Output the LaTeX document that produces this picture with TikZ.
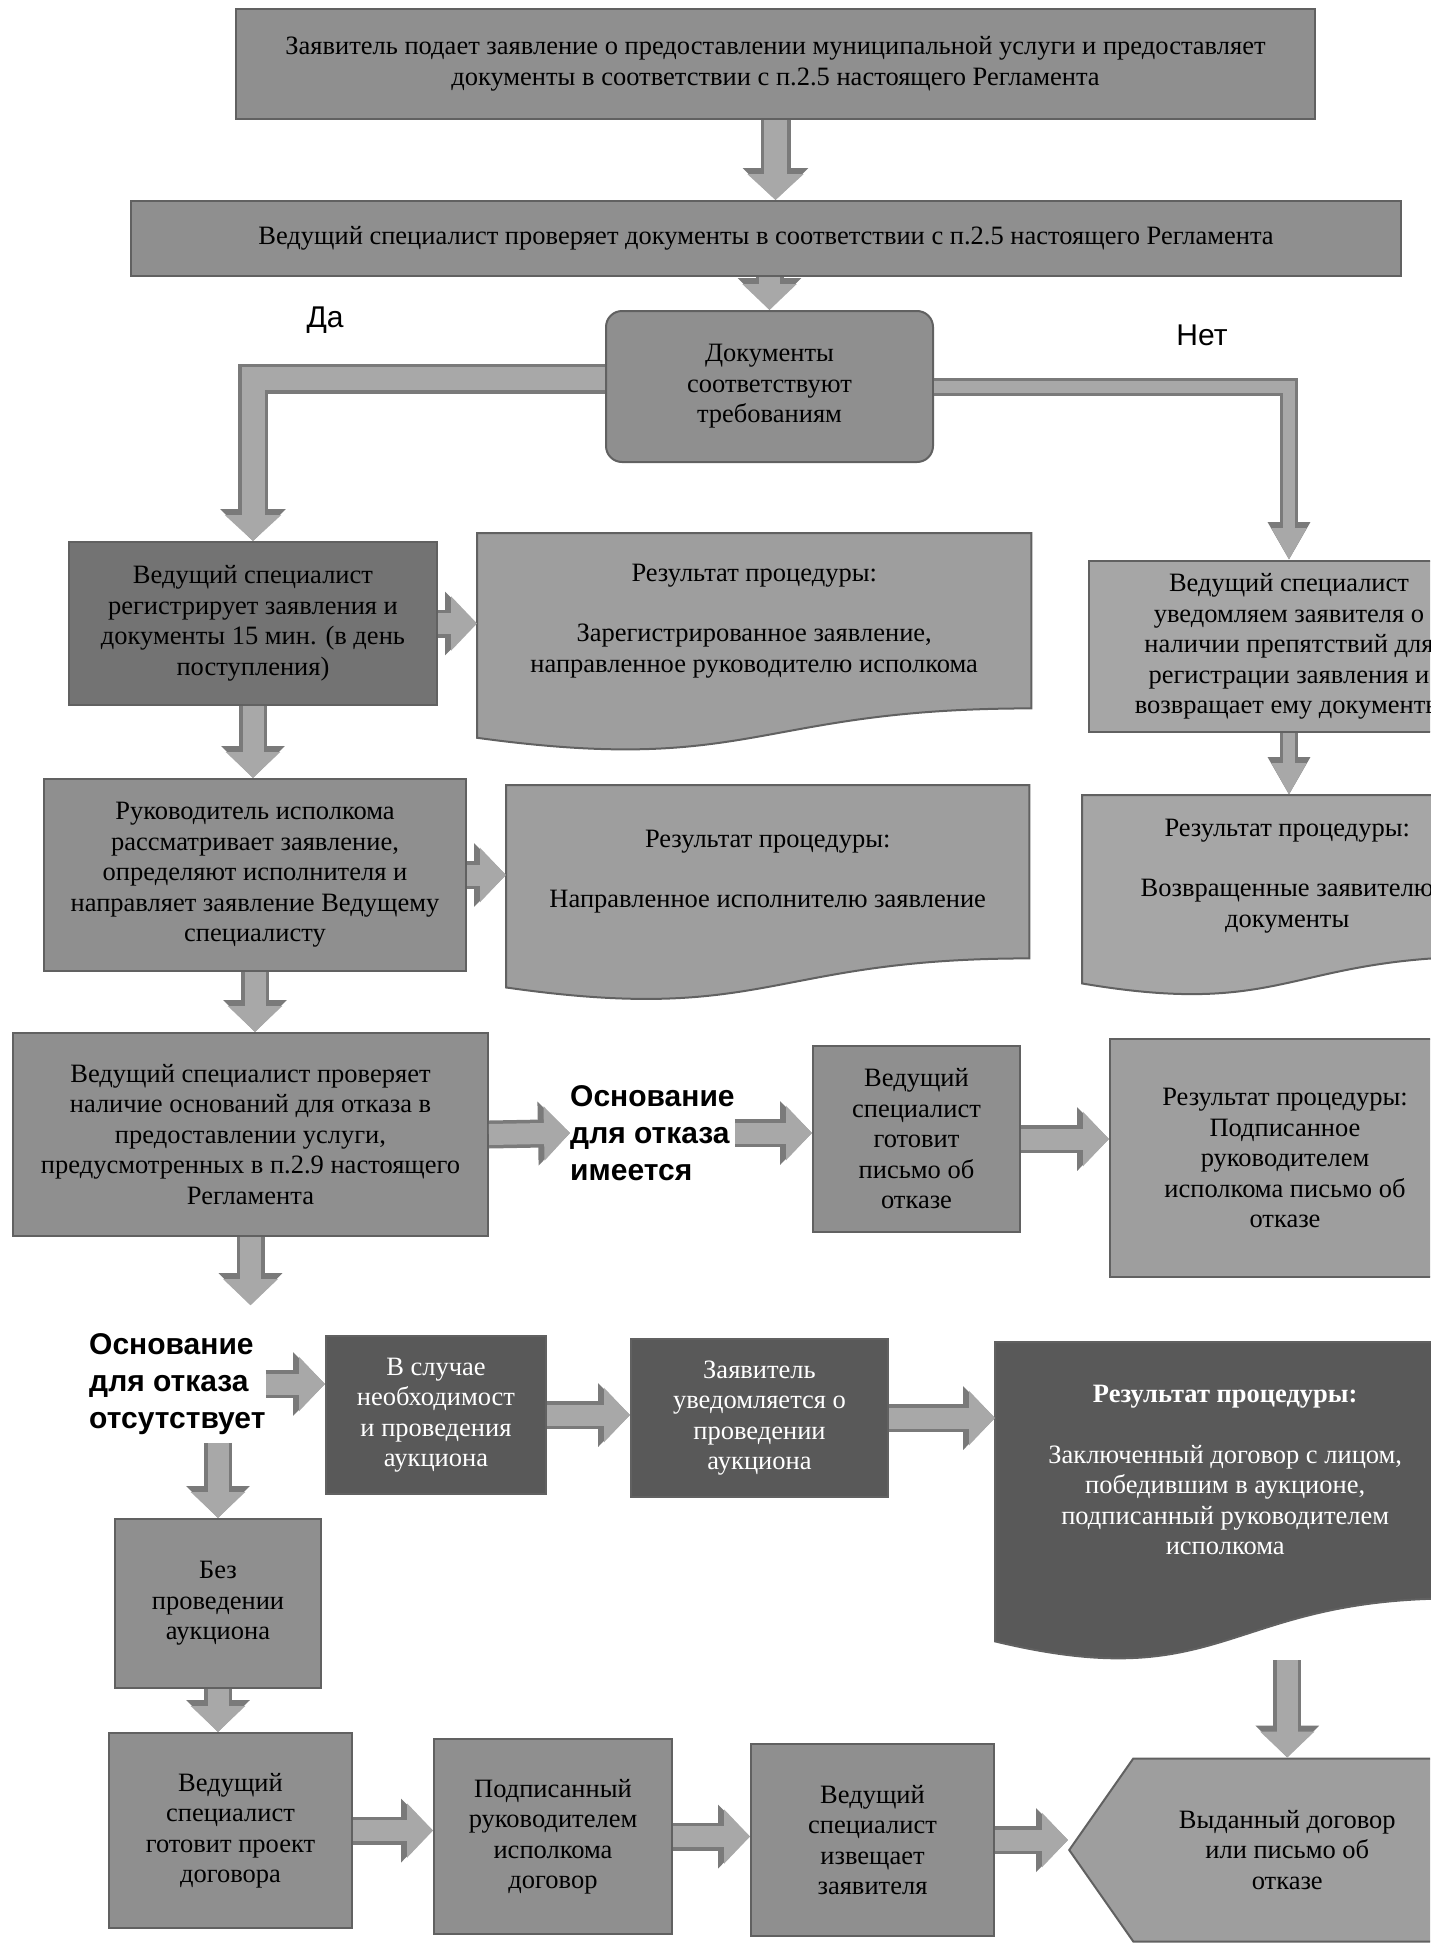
\documentclass[tikz,border=0pt]{standalone}
\usepackage{fontspec}
\setmainfont{Liberation Serif}
\newfontfamily\labelfont{Liberation Sans}
\usetikzlibrary{arrows.meta,shapes.symbols,calc}
\pgfdeclarelayer{background}
\pgfsetlayers{background,main}

\definecolor{edgegray}{gray}{0.38}
\definecolor{plainfill}{gray}{0.56}
\definecolor{darkfill}{gray}{0.45}
\definecolor{resfill}{gray}{0.62}
\definecolor{lightfill}{gray}{0.65}
\definecolor{deepfill}{gray}{0.35}
\definecolor{arrowfill}{gray}{0.66}
\definecolor{arrowedge}{gray}{0.48}

% document shape under a node
\newcommand{\docwave}[2]{%
  \filldraw[draw=edgegray, line width=2pt, fill=#2] let \p1=(#1.north), \p2=(#1.south), \n1={\y1-\y2} in
    (#1.north west) -- (#1.north east) -- (#1.south east)
    .. controls (#1.south) and ([yshift=-0.384*\n1]#1.south)
    .. ([yshift=-0.1675*\n1]#1.south west) -- cycle;}

\begin{document}
\begin{tikzpicture}[x=1pt,y=-1pt,
  box/.style={draw=edgegray, line width=2pt, align=center, anchor=north west,
    font=\fontsize{26.5}{30.5}\selectfont, inner sep=4pt},
  doc/.style={align=center, anchor=north west, font=\fontsize{26.5}{30.5}\selectfont},
  answer/.style={font=\labelfont\fontsize{30}{36}\selectfont},
  reason/.style={font=\labelfont\bfseries\fontsize{30}{37}\selectfont, align=left, anchor=west, inner sep=0pt},
  flow/.style={preaction={draw=arrowedge, line width=28pt, -{Triangle[width=62pt,length=32pt]}},
    draw=arrowfill, line width=21pt, -{Triangle[width=53pt,length=26pt]}},
  wideflow/.style={preaction={draw=arrowedge, line width=30pt, -{Triangle[width=64pt,length=32pt]}},
    draw=arrowfill, line width=23pt, -{Triangle[width=55pt,length=26pt]}},
  thinflow/.style={preaction={draw=arrowedge, line width=18pt, -{Triangle[width=40pt,length=38pt]}},
    draw=arrowfill, line width=12pt, -{Triangle[width=33pt,length=32pt]}}]

\clip (0,0) rectangle (1430,1943);

% first steps
\node[box, fill=plainfill, minimum width=1079pt, minimum height=110pt] (apply) at (235,8)
  {Заявитель подает заявление о предоставлении муниципальной услуги и предоставляет\\документы в соответствии с п.2.5 настоящего Регламента};
\node[box, fill=plainfill, minimum width=1270pt, minimum height=75pt] (check) at (130,200)
  {Ведущий специалист проверяет документы в соответствии с п.2.5 настоящего Регламента};
\node[box, fill=plainfill, rounded corners=16pt, minimum width=327pt, minimum height=151pt] (decide) at (605,310)
  {Документы\\соответствуют\\требованиям};

\node[answer] (yes) at (325,320) {Да};
\node[answer] (no) at (1202,335) {Нет};

% yes branch
\node[box, fill=darkfill, minimum width=368pt, minimum height=163pt] (regist) at (68,541)
  {Ведущий специалист\\регистрирует заявления и\\документы 15 мин. (в день\\поступления)};
\node[doc, minimum width=554pt, minimum height=175pt] (res1) at (477,533)
  {Результат процедуры:\\[30pt]Зарегистрированное заявление,\\направленное руководителю исполкома};
\node[box, fill=plainfill, minimum width=422pt, minimum height=192pt] (head) at (43,778)
  {Руководитель исполкома\\рассматривает заявление,\\определяют исполнителя и\\направляет заявление Ведущему\\специалисту};
\node[doc, minimum width=523pt, minimum height=173pt] (res2) at (506,785)
  {Результат процедуры:\\[30pt]Направленное исполнителю заявление};
\node[box, fill=plainfill, minimum width=475pt, minimum height=203pt] (check2) at (12,1032)
  {Ведущий специалист проверяет\\наличие оснований для отказа в\\предоставлении услуги,\\предусмотренных в п.2.9 настоящего\\Регламента};

% no branch
\node[box, fill=lightfill, minimum width=400pt, minimum height=171pt] (notify) at (1088,560)
  {Ведущий специалист\\уведомляем заявителя о\\наличии препятствий для\\регистрации заявления и\\возвращает ему документы};
\node[doc, minimum width=410pt, minimum height=161pt] (res4) at (1082,795)
  {Результат процедуры:\\[30pt]Возвращенные заявителю\\документы};

% refusal
\node[reason] (refyes) at (570,1133) {Основание\\для отказа\\имеется};
\node[box, fill=plainfill, minimum width=207pt, minimum height=186pt] (refuse) at (812,1045)
  {Ведущий\\специалист\\готовит\\письмо об\\отказе};
\node[box, fill=resfill, minimum width=350pt, minimum height=238pt] (res3) at (1109,1038)
  {Результат процедуры:\\Подписанное\\руководителем\\исполкома письмо об\\отказе};

% no refusal
\node[reason] (refno) at (89,1384) {Основание\\для отказа\\отсутствует};
\node[box, fill=deepfill, text=white, minimum width=220pt, minimum height=158pt] (auction) at (325,1335)
  {В случае\\необходимост\\и проведения\\аукциона};
\node[box, fill=deepfill, text=white, minimum width=257pt, minimum height=158pt] (inform) at (630,1338)
  {Заявитель\\уведомляется о\\проведении\\аукциона};
\node[doc, text=white, minimum width=460pt, minimum height=256pt] (res5) at (995,1342)
  {\textbf{Результат процедуры:}\\[30pt]Заключенный договор с лицом,\\победившим в аукционе,\\подписанный руководителем\\исполкома};
\node[box, fill=plainfill, minimum width=206pt, minimum height=169pt] (noauc) at (114,1518)
  {Без\\проведении\\аукциона};

% last row
\node[box, fill=plainfill, minimum width=243pt, minimum height=195pt] (draft) at (108,1732)
  {Ведущий\\специалист\\готовит проект\\договора};
\node[box, fill=plainfill, minimum width=238pt, minimum height=195pt] (signed) at (433,1738)
  {Подписанный\\руководителем\\исполкома\\договор};
\node[box, fill=plainfill, minimum width=243pt, minimum height=192pt] (notice) at (750,1743)
  {Ведущий\\специалист\\извещает\\заявителя};
\node[box, fill=resfill, signal, signal to=west, signal pointer angle=110, anchor=west,
  minimum width=372pt, minimum height=183pt] (issued) at (1068,1850)
  {Выданный договор\\или письмо об\\отказе};

\begin{pgfonlayer}{background}
\fill[white] (0,0) rectangle (1430,1943);
\docwave{res1}{resfill}
\docwave{res2}{resfill}
\docwave{res4}{lightfill}
\docwave{res5}{deepfill}
\end{pgfonlayer}

% arrows
\draw[wideflow] (apply.south) -- (apply.south |- check.north);
\draw[flow] (check.south -| decide.north) -- (decide.north);
\draw[wideflow] ([yshift=8pt]decide.west) -| (regist.north);
\draw[thinflow] (decide.east) -| (notify.north);
\draw[flow] (regist.east) -- (regist.east -| res1.west);
\draw[flow] (regist.south) -- (regist.south |- head.north);
\draw[flow] (head.east) -- (head.east -| res2.west);
\draw[flow] (head.south) -- (head.south |- check2.north);
\draw[thinflow] (notify.south) -- (notify.south |- res4.north);
\draw[flow] (check2.east) -- (refyes.west);
\draw[flow] (refyes.east) -- (refyes.east -| refuse.west);
\draw[flow] (refuse.east) -- (refuse.east -| res3.west);
\draw[flow, shorten >=28pt] (check2.south) -- (check2.south |- refno.north);
\draw[flow] (refno.east) -- (refno.east -| auction.west);
\draw[flow, shorten <=8pt] (noauc.north |- refno.south) -- (noauc.north);
\draw[flow] (auction.east) -- (auction.east -| inform.west);
\draw[flow] (inform.east) -- (inform.east -| res5.west);
\draw[flow] ([yshift=-62pt]res5.south -| issued.north) -- (issued.north);
\draw[flow] (noauc.south) -- (noauc.south |- draft.north);
\draw[flow] (draft.east) -- (draft.east -| signed.west);
\draw[flow] (signed.east) -- (signed.east -| notice.west);
\draw[flow] (notice.east) -- (notice.east -| issued.west);

\end{tikzpicture}
\end{document}
